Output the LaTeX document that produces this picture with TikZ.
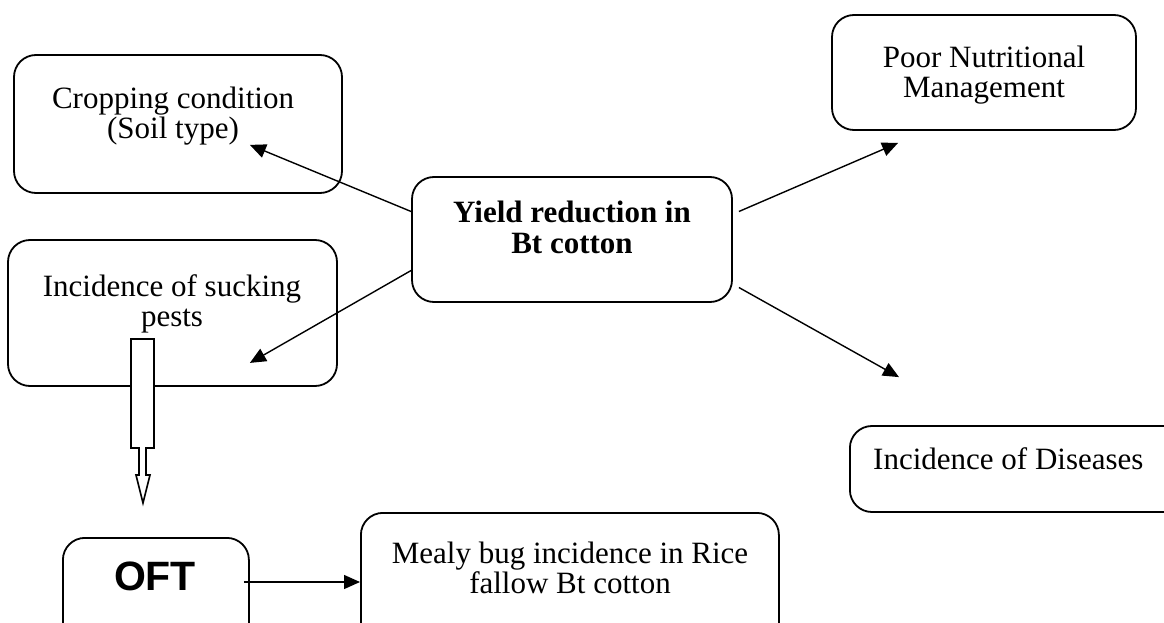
\documentclass[tikz,border=0pt]{standalone}
\usepackage{fontspec}
\setmainfont{Liberation Serif}
\newfontfamily\arialfont{Liberation Sans}
\usetikzlibrary{arrows.meta,calc}
\tikzset{
  box/.style={draw, line width=1.8pt, rounded corners=22pt, fill=white, inner sep=0pt},
  txt/.style={inner sep=0pt, align=center, font=\fontsize{31}{30}\selectfont},
  boldtxt/.style={inner sep=0pt, align=center, font=\fontsize{31}{31}\selectfont\bfseries},
  link/.style={line width=1.4pt, -{Triangle[length=16pt,width=14pt]}},
  hollow/.style={draw, line width=1.6pt, fill=white, line join=miter}
}
\begin{document}
\begin{tikzpicture}[x=1pt,y=-1pt]
\useasboundingbox (0,0) rectangle (1164,623);
\clip (0,0) rectangle (1164,623);
\fill[white] (0,0) rectangle (1164,623);

% boxes
\node[box, minimum width=328pt, minimum height=138pt] (crop) at (178,124) {};
\node[box, minimum width=304pt, minimum height=115pt] (poor) at (984,72.5) {};
\node[box, minimum width=320pt, minimum height=125pt] (yield) at (572,239.5) {};
\node[box, minimum width=329pt, minimum height=146pt] (pests) at (172.5,313) {};
\node[box, minimum width=360pt, minimum height=86pt, anchor=west] (dis) at (849,469) {};
\node[box, minimum width=186pt, minimum height=140pt, anchor=north west] (oft) at (62,537) {};
\node[box, minimum width=418pt, minimum height=140pt, anchor=north west] (mealy) at (360,512) {};

% texts
\node[txt, anchor=north] (cropt) at (173,87) {Cropping condition\\(Soil type)};
\node[txt, anchor=north] (poort) at (984,46) {Poor Nutritional\\Management};
\node[boldtxt, anchor=north] (yieldt) at (572,201) {Yield reduction in\\Bt cotton};
\node[txt, anchor=north] (pestst) at (172,274) {Incidence of sucking\\pests};
\node[txt, anchor=base west] (dist) at (873,469) {Incidence of Diseases};
\node[inner sep=0pt, anchor=base, font=\fontsize{41}{41}\selectfont\arialfont\bfseries] (oftt) at (155,590) {OFT};
\node[txt, anchor=north] (mealyt) at (570,542) {Mealy bug incidence in Rice\\fallow Bt cotton};

% arrow ends
\coordinate (c1) at ($(crop.south east)+(-93,-49)$);
\coordinate (c2) at ($(pests.south east)+(-88,-24)$);
\coordinate (c3) at ($(poor.south west)+(67,12)$);
\coordinate (c4) at ($(dis.north west)+(50,-48)$);
\coordinate (o1) at ($(oft.north east)+(-6,45)$);

\draw[link] ($(yield.west)+(0,-28)$) -- (c1);
\draw[link] ($(yield.west)+(0,31)$) -- (c2);
\draw[link] ($(yield.east)+(6,-28)$) -- (c3);
\draw[link] ($(yield.east)+(6,48)$) -- (c4);
\draw[link] (o1) -- (mealy.west |- o1);

% block arrow from the sucking pests box down to OFT
\draw[hollow] (131,339) -- (154,339) -- (154,448) -- (146,448) -- (146,475)
  -- (150,475) -- (143,503) -- (136,475) -- (139,475) -- (139,448)
  -- (131,448) -- cycle;
\end{tikzpicture}
\end{document}
